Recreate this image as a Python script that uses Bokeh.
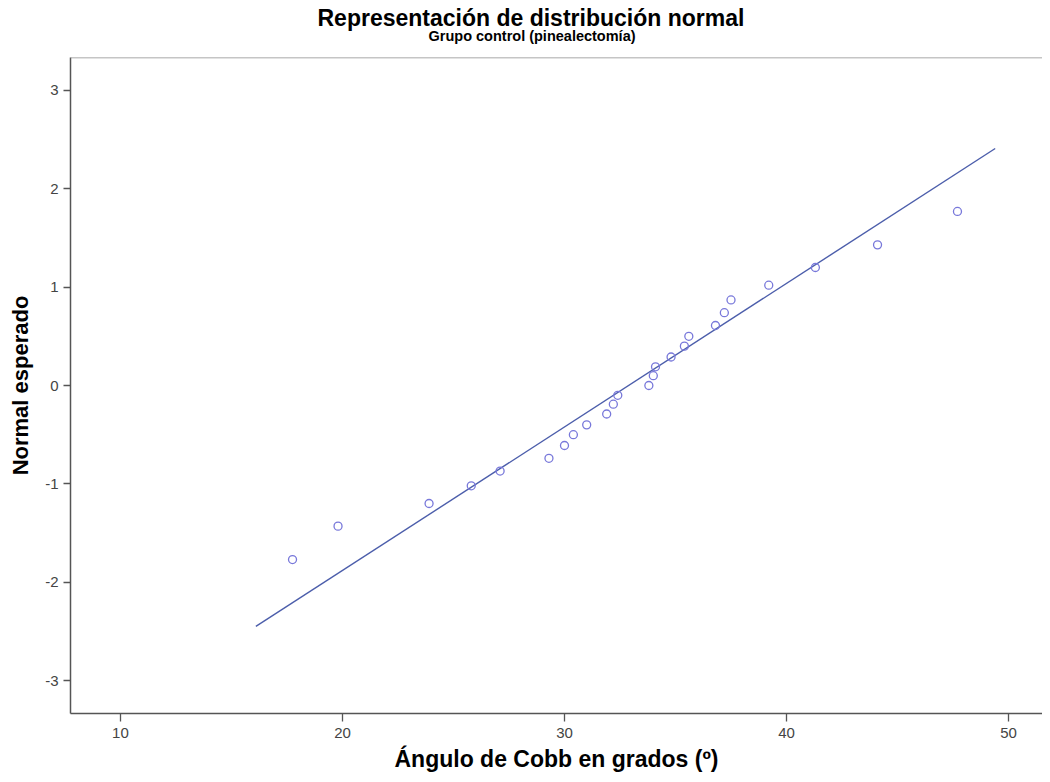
from bokeh.plotting import figure
from bokeh.models import Title, Span, FixedTicker
from bokeh.embed import file_html
from bokeh.resources import INLINE

# Data (Q-Q normal plot)
cobb_angle = [17.75, 19.8, 23.9, 25.8, 27.1, 29.3, 30.0, 30.4, 31.0, 31.9, 32.2, 32.4,
              33.8, 34.0, 34.1, 34.8, 35.4, 35.6, 36.8, 37.2, 37.5, 39.2, 41.3, 44.1, 47.7]
expected_normal = [-1.77, -1.43, -1.20, -1.02, -0.87, -0.74, -0.61, -0.50, -0.40, -0.29,
                   -0.19, -0.10, 0.0, 0.10, 0.19, 0.29, 0.40, 0.50, 0.61, 0.74, 0.87,
                   1.02, 1.20, 1.43, 1.77]
ref_line_x = [16.1, 49.4]
ref_line_y = [-2.45, 2.41]

x_ticks = [10, 20, 30, 40, 50]
y_ticks = [-3, -2, -1, 0, 1, 2, 3]

title_text = "Representación de distribución normal"
subtitle_text = "Grupo control (pinealectomía)"
x_label = "Ángulo de Cobb en grados (º)"
y_label = "Normal esperado"

x_start, x_end = 7.75, 51.53
y_start, y_end = -3.335, 3.335

FONT = "Liberation Sans"

p = figure(width=1042, height=774, x_range=(x_start, x_end), y_range=(y_start, y_end),
           output_backend="svg", toolbar_location=None,
           min_border_left=70, min_border_right=0, min_border_top=57, min_border_bottom=10)

p.title.text = title_text
p.title.align = "left"
p.title.offset = 247
p.title.standoff = -36
p.title.text_font = FONT
p.title.text_font_size = "23px"
p.title.text_font_style = "bold"
p.title.text_color = "#000000"

sub = Title(text=subtitle_text, align="left", offset=358, standoff=27, text_font=FONT,
            text_font_size="14.5px", text_font_style="bold", text_color="#000000")
p.add_layout(sub, "above")

p.outline_line_color = None
p.xgrid.visible = False
p.ygrid.visible = False
p.background_fill_color = "white"
p.border_fill_color = "white"

top_line = Span(location=y_end, dimension="width", line_color="#8c8c8c", line_width=1.5)
p.add_layout(top_line)

for ax in (p.xaxis[0], p.yaxis[0]):
    ax.axis_line_color = "#555555"
    ax.axis_line_width = 1.5
    ax.major_tick_line_color = "#555555"
    ax.major_tick_line_width = 1.3
    ax.minor_tick_line_color = None
    ax.major_tick_in = 0
    ax.major_label_text_font = FONT
    ax.major_label_text_font_size = "15px"
    ax.major_label_text_color = "#444444"
    ax.axis_label_text_font = FONT
    ax.axis_label_text_font_style = "bold"
    ax.axis_label_text_color = "#000000"

p.xaxis[0].ticker = FixedTicker(ticks=x_ticks)
p.yaxis[0].ticker = FixedTicker(ticks=y_ticks)
p.xaxis[0].major_label_overrides = {t: str(t) for t in x_ticks}
p.yaxis[0].major_label_overrides = {t: str(t) for t in y_ticks}
p.xaxis[0].major_tick_out = 8
p.yaxis[0].major_tick_out = 7
p.xaxis[0].major_label_standoff = 6
p.yaxis[0].major_label_standoff = 5
p.xaxis[0].axis_label = x_label
p.yaxis[0].axis_label = y_label
p.xaxis[0].axis_label_text_font_size = "23px"
p.yaxis[0].axis_label_text_font_size = "22px"
p.xaxis[0].axis_label_standoff = 5
p.yaxis[0].axis_label_standoff = 9

p.line(ref_line_x, ref_line_y, line_color="#4C5EAB", line_width=1.4)
p.scatter(cobb_angle, expected_normal, marker="circle", size=8, fill_color=None,
          line_color="#7878DA", line_width=1.3)

open("out.html", "w").write(file_html(p, INLINE))
